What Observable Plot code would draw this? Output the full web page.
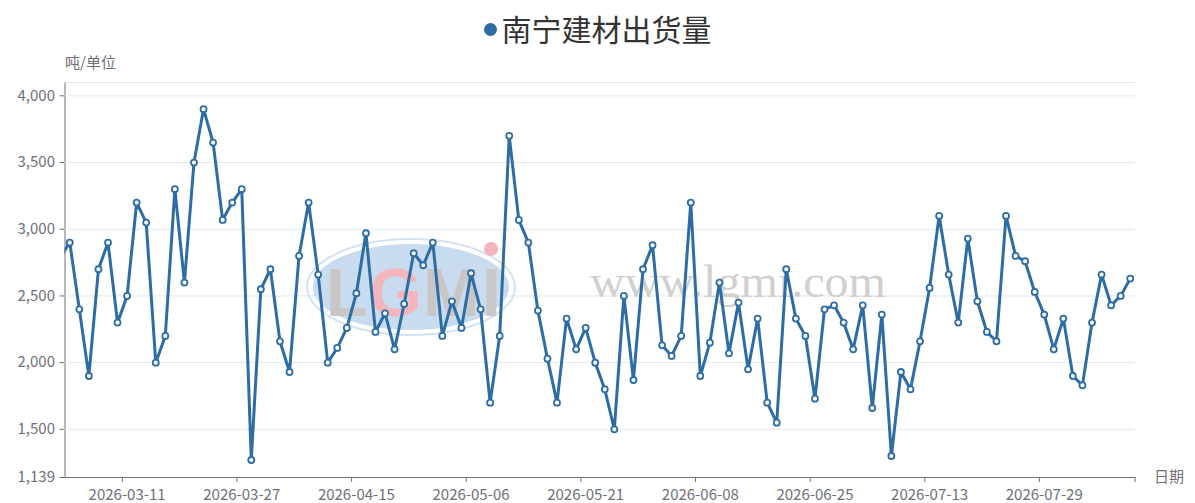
<!DOCTYPE html>
<html>
<head>
<meta charset="utf-8">
<script src="https://cdn.jsdelivr.net/npm/d3@7"></script>
<script src="https://cdn.jsdelivr.net/npm/@observablehq/plot@0.6"></script>
<style>
  body { margin: 0; background: #fff; }
  #wrap { position: relative; width: 1195px; height: 503px; }
  #title {
    position: absolute; left: 0; top: 8px; width: 1195px; text-align: center;
    font: 30px "Noto Sans CJK SC", sans-serif; color: #333; line-height: 40px;
  }
  #title .dot {
    display: inline-block; width: 13px; height: 13px; border-radius: 50%;
    background: #2e6da4; margin-right: 5px; vertical-align: 5px;
  }
</style>
</head>
<body>
<div id="wrap">
  <div id="chart"></div>
  <div id="title"><span class="dot"></span>南宁建材出货量</div>
</div>
<script>
// 出货量 (吨), 每个点一个交易日, 顺序从左到右
const values = [
  2900, 2400, 1900, 2700, 2900, 2300, 2500, 3200, 3050, 2000,
  2200, 3300, 2600, 3500, 3900, 3650, 3070, 3200, 3300, 1270,
  2550, 2700, 2160, 1930, 2800, 3200, 2660, 2000, 2110, 2260,
  2520, 2970, 2230, 2370, 2100, 2440, 2820, 2730, 2900, 2200,
  2460, 2260, 2670, 2400, 1700, 2200, 3700, 3070, 2900, 2390,
  2030, 1700, 2330, 2100, 2260, 2000, 1800, 1500, 2500, 1870,
  2700, 2880, 2130, 2050, 2200, 3200, 1900, 2150, 2600, 2070,
  2450, 1950, 2330, 1700, 1550, 2700, 2330, 2200, 1730, 2400,
  2430, 2300, 2100, 2430, 1660, 2360, 1300, 1930, 1800, 2160,
  2560, 3100, 2660, 2300, 2930, 2460, 2230, 2160, 3100, 2800,
  2760, 2530, 2360, 2100, 2330, 1900, 1830, 2300, 2660, 2430,
  2500, 2630
]
// 窗口左侧之前的一个点 (被裁掉, 只露出一小段线)
const before = 2790

const tickIdx = [6, 18, 30, 42, 54, 66, 78, 90, 102]
const tickLabels = ['2026-03-11', '2026-03-27', '2026-04-15', '2026-05-06', '2026-05-21',
  '2026-06-08', '2026-06-25', '2026-07-13', '2026-07-29']
const yTicks = [1139, 1500, 2000, 2500, 3000, 3500, 4000]
const yMax = 4100

const data = [{i: -1, v: before}].concat(values.map((v, i) => ({i, v})))
const n = values.length
const blue = '#2e6da4'
const grey = '#6e7079'

// 水印 (logo + 网址)
const watermark = () => {
  const g = d3.create('svg:g').attr('text-anchor', 'start')
  g.append('ellipse').attr('cx', 411).attr('cy', 287).attr('rx', 104).attr('ry', 48)
    .attr('fill', 'none').attr('stroke', '#d3e1f1').attr('stroke-width', 2)
  g.append('ellipse').attr('cx', 411).attr('cy', 287).attr('rx', 98).attr('ry', 43)
    .attr('fill', '#c9dbef')
  const letters = [['L', 326, '#c9c6c6'], ['G', 369, '#f4b6bc'], ['M', 423, '#c9c6c6'], ['I', 482, '#c9c6c6']]
  for (const [t, x, c] of letters) {
    g.append('text').attr('x', x).attr('y', 316)
      .attr('font-family', 'Liberation Sans').attr('font-weight', 'bold')
      .attr('font-size', 68).attr('fill', c).text(t)
  }
  g.append('circle').attr('cx', 491).attr('cy', 249).attr('r', 7).attr('fill', '#f4b6bc')
  g.append('text').attr('x', 590).attr('y', 297)
    .attr('font-family', 'Liberation Serif').attr('font-size', 46)
    .attr('textLength', 296).attr('lengthAdjust', 'spacingAndGlyphs')
    .attr('fill', '#d0d0d0').text('www.lgmi.com')
  return g.node()
}

const chart = Plot.plot({
  width: 1195,
  height: 503,
  marginLeft: 64.5,
  marginRight: 60.5,
  marginTop: 82,
  marginBottom: 26,
  style: {fontSize: '15px', fontFamily: '"Noto Sans CJK SC", "Noto Sans", sans-serif', color: grey, background: '#fff'},
  x: {
    type: 'linear',
    domain: [-0.5, n - 0.5],
    ticks: tickIdx.map(d => d - 0.5).concat([n - 0.5]),
    tickFormat: () => '',
    tickSize: 5,
    line: true,
    label: null
  },
  y: {
    domain: [yTicks[0], yMax],
    ticks: yTicks,
    tickFormat: d3.format(','),
    tickSize: 5,
    tickPadding: 5,
    line: true,
    label: null
  },
  marks: [
    Plot.ruleY(yTicks.slice(1).concat([yMax]), {stroke: '#e0e6f1'}),
    watermark,
    Plot.text(tickIdx, {x: d => d, text: (d, j) => tickLabels[j], frameAnchor: 'bottom', dy: 22, fill: grey}),
    Plot.text(['吨/单位'], {frameAnchor: 'top-left', dy: -25, fill: grey}),
    Plot.text(['日期'], {frameAnchor: 'bottom-right', dx: 19, textAnchor: 'start', lineAnchor: 'middle', fill: grey}),
    Plot.line(data, {x: 'i', y: 'v', stroke: blue, strokeWidth: 3, clip: true}),
    Plot.dot(data, {x: 'i', y: 'v', r: 3, fill: '#fff', stroke: blue, strokeWidth: 1.8, clip: true})
  ]
})

d3.select('#chart').append(() => chart)
</script>
</body>
</html>
